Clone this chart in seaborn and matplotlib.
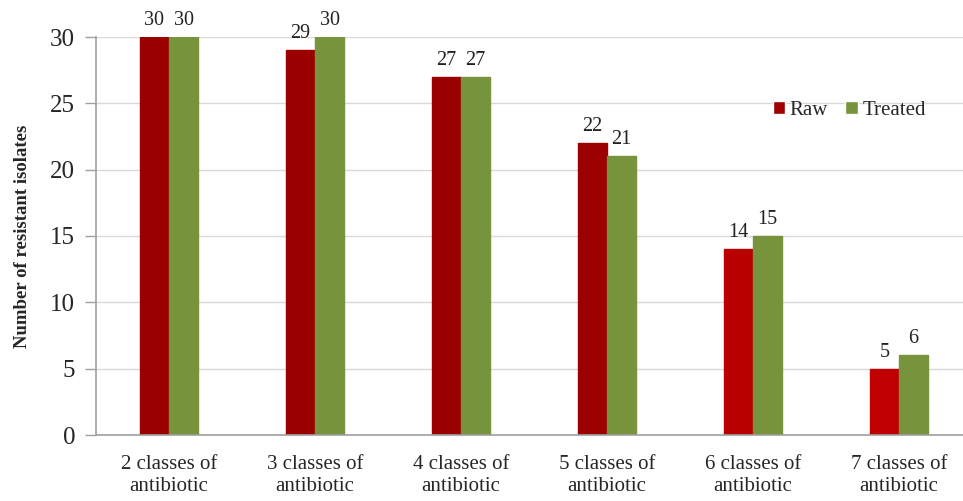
import pandas as pd
import matplotlib
matplotlib.use("Agg")
import matplotlib.pyplot as plt
import seaborn as sns

categories = ["2 classes of\nantibiotic", "3 classes of\nantibiotic", "4 classes of\nantibiotic",
              "5 classes of\nantibiotic", "6 classes of\nantibiotic", "7 classes of\nantibiotic"]
raw = [30, 29, 27, 22, 14, 5]
treated = [30, 30, 27, 21, 15, 6]
series = ["Raw", "Treated"]

# raw bars are not all the same red in the original
raw_colors = ["#9b0000", "#9b0000", "#9b0000", "#9d0000", "#b80000", "#c00000"]
green = "#77933c"

df = pd.DataFrame({
    "category": categories * 2,
    "value": raw + treated,
    "series": [series[0]] * len(raw) + [series[1]] * len(treated),
})

sns.set_style("white")
plt.rcParams["font.family"] = ["Liberation Serif", "DejaVu Serif"]

fig = plt.figure(figsize=(9.63, 5.01), dpi=100)
# axes runs slightly past the right edge, like the cropped original
ax = fig.add_axes([96 / 963, 66 / 501, 876 / 963, 398 / 501])

sns.barplot(data=df, x="category", y="value", hue="series",
            palette={"Raw": "#a00000", "Treated": green},
            width=0.4, saturation=1, ax=ax, legend=True)

for patch, c in zip(ax.containers[0], raw_colors):
    patch.set_facecolor(c)
    patch.set_edgecolor(c)
for patch in ax.containers[1]:
    patch.set_edgecolor(green)

for cont in ax.containers:
    labels = ax.bar_label(cont, padding=5, fontsize=14.5, color="#222222")
    for t in labels:
        t.set_clip_on(False)

ax.set_ylim(0, 30)
ax.set_xlim(-0.5, 5.5)
ax.set_yticks(range(0, 31, 5))
ax.yaxis.grid(True, color="#d9d9d9", linewidth=1)
ax.set_axisbelow(True)
ax.set_xlabel("")
ax.set_ylabel("Number of resistant isolates", fontsize=13.5, fontweight="bold", labelpad=14)

for s in ["top", "right"]:
    ax.spines[s].set_visible(False)
ax.spines["left"].set_color("#a0a0a0")
ax.spines["bottom"].set_color("#a0a0a0")
ax.spines["left"].set_linewidth(1.2)
ax.spines["bottom"].set_linewidth(1.2)

ax.tick_params(axis="y", left=True, length=8, width=1, color="#a0a0a0",
               labelsize=18, pad=7)
ax.tick_params(axis="x", bottom=False, labelsize=15, pad=11)
for t in ax.get_xticklabels():
    t.set_linespacing(1.2)

ax.legend(loc="upper left", bbox_to_anchor=(0.763, 0.86), ncol=2, frameon=False,
          fontsize=15, handlelength=0.6, handleheight=0.6, handletextpad=0.2,
          columnspacing=0.85, borderaxespad=0)

fig.savefig("out.png", dpi=100)
